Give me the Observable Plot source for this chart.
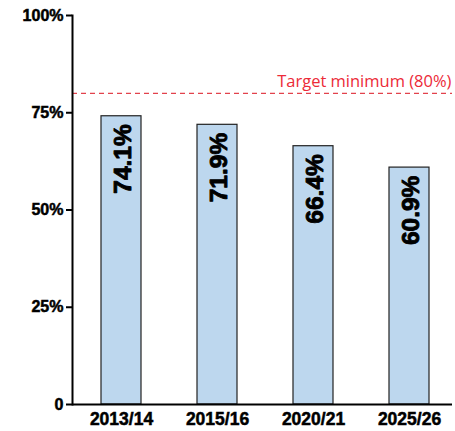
<!DOCTYPE html>
<html>
<head>
<meta charset="utf-8">
<script src="https://cdn.jsdelivr.net/npm/d3@7"></script>
<script src="https://cdn.jsdelivr.net/npm/@observablehq/plot@0.6"></script>
<style>
  html, body { margin: 0; padding: 0; background: #fff; }
  svg { display: block; }
</style>
</head>
<body>
<div id="chart"></div>
<script>
const categories = ["2013/14", "2015/16", "2020/21", "2025/26"];
const values = [74.1, 71.9, 66.4, 60.9];
const valueLabels = ["74.1%", "71.9%", "66.4%", "60.9%"];
const yTicks = [0, 25, 50, 75, 100];
const yTickLabels = ["0", "25%", "50%", "75%", "100%"];
const targetValue = 80;
const targetLabel = "Target minimum (80%)";

const rows = categories.map((c, i) => ({cat: c, value: values[i], label: valueLabels[i]}));
const narrow = "'Liberation Sans Narrow', 'Arial Narrow', sans-serif";

const chart = Plot.plot({
  width: 455,
  height: 431,
  marginLeft: 72,
  marginRight: 3,
  marginTop: 15,
  marginBottom: 27,
  style: {fontFamily: narrow, background: "#fff"},
  x: {domain: categories, paddingInner: 0.58, paddingOuter: 0.25, align: 0.56},
  y: {domain: [0, 100]},
  marks: [
    Plot.barY(rows, {x: "cat", y: "value", fill: "#bdd7ee", stroke: "#222", strokeWidth: 1.2}),
    Plot.text(rows, {x: "cat", y: "value", text: "label", rotate: -90, textAnchor: "end",
      lineAnchor: "middle", dy: 8, dx: 1.5, fontSize: 24.5, fontWeight: "bold", fill: "#000",
      stroke: "#000", strokeWidth: 0.9}),
    Plot.ruleY([targetValue], {stroke: "#e2424c", strokeWidth: 1.2, strokeDasharray: "5,4"}),
    Plot.text([targetLabel], {y: () => targetValue, text: d => d, frameAnchor: "right", textAnchor: "end",
      lineAnchor: "bottom", dy: -6, dx: -1, fill: "#ec2a38", fontSize: 16.5,
      fontFamily: "'Open Sans', sans-serif"}),
    Plot.axisY({ticks: yTicks, tickFormat: (d) => yTickLabels[yTicks.indexOf(d)], tickSize: 6, tickPadding: 3,
      fontSize: 16, fontWeight: "bold", strokeWidth: 2, stroke: "#000", fill: "#000", label: null}),
    Plot.axisX({tickSize: 0, tickPadding: 8, fontSize: 17.5, fontWeight: "bold", fill: "#000", label: null}),
    Plot.frame({anchor: "left", stroke: "#000", strokeWidth: 2}),
    Plot.ruleY([0], {stroke: "#000", strokeWidth: 2})
  ]
});
document.getElementById("chart").append(chart);
// thicken axis label glyphs slightly to match the heavy condensed face
d3.select(chart).selectAll("g[aria-label='y-axis tick label'] text, g[aria-label='x-axis tick label'] text")
  .attr("stroke", "#000").attr("stroke-width", 0.5);
</script>
</body>
</html>
